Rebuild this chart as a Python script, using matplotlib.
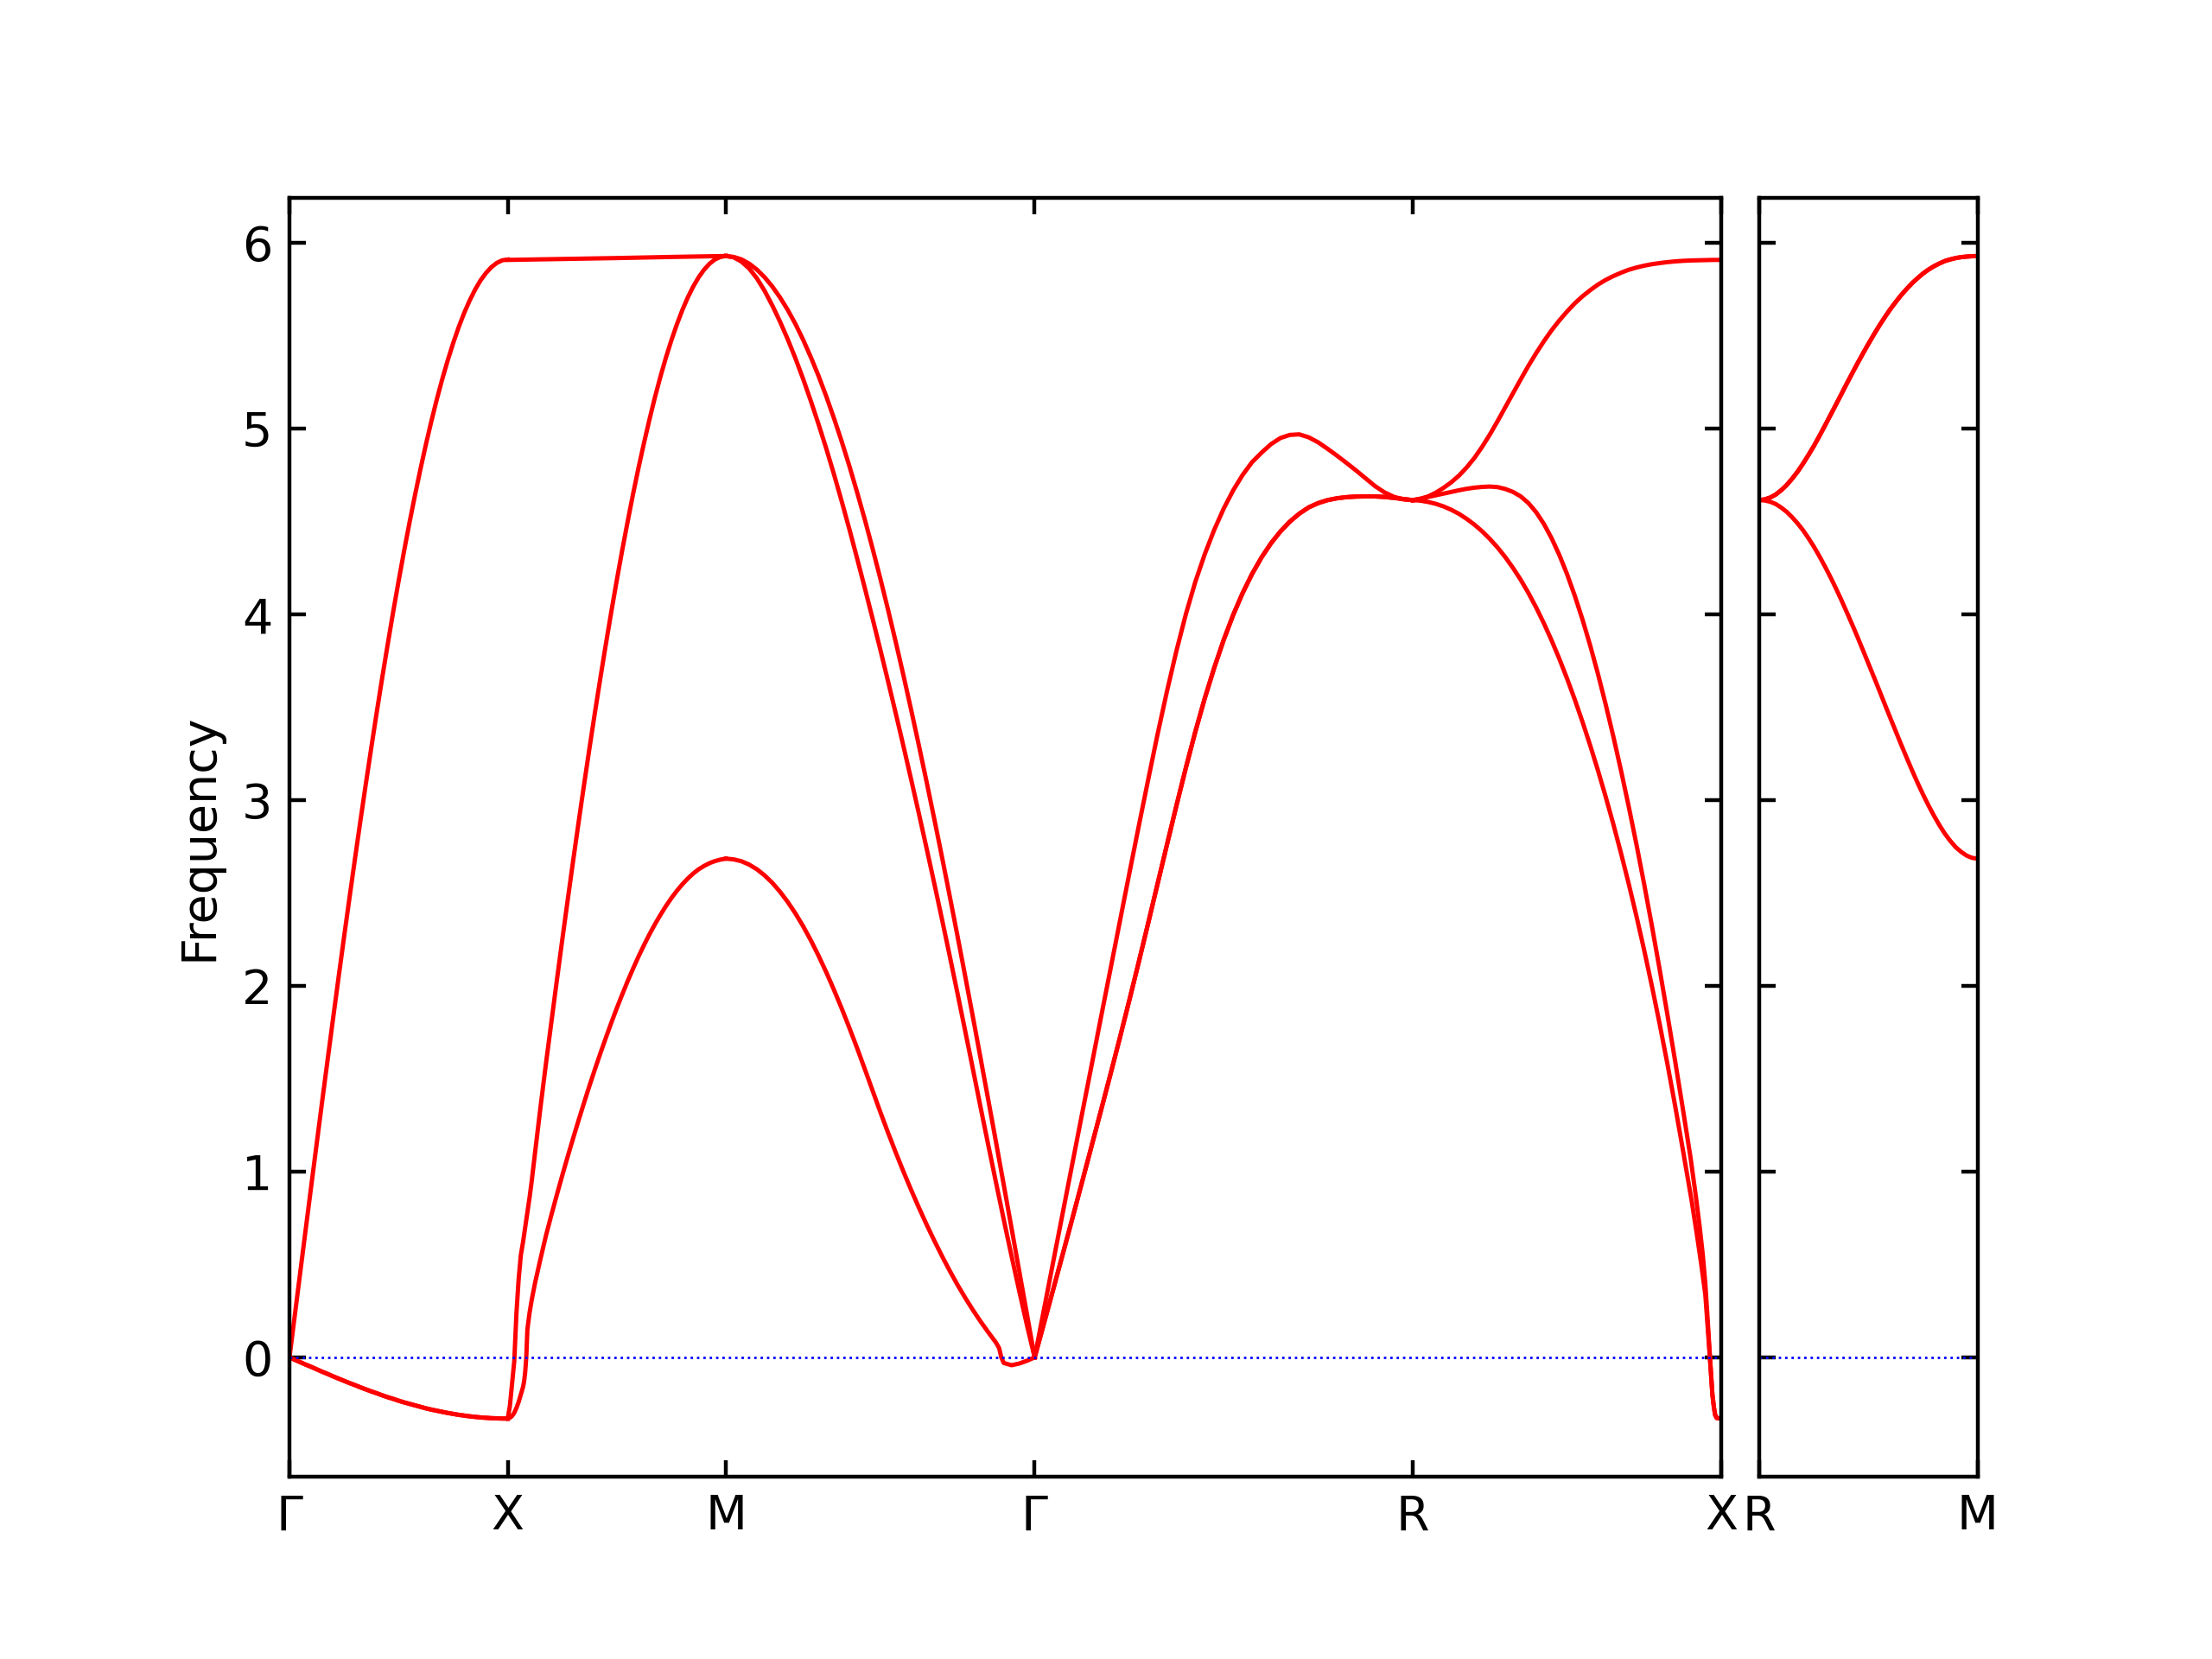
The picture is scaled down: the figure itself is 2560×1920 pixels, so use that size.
import numpy as np
import matplotlib
matplotlib.use("Agg")
import matplotlib.pyplot as plt

# ---------------- path definition ----------------
main_labels = ["Γ", "X", "M", "Γ", "R", "X"]
main_seg_lengths = [0.5, 0.5, 0.7071, 0.8660, 0.7071]
side_labels = ["R", "M"]
side_seg_lengths = [0.5]

# sample positions (fraction along a segment)
step41 = list(np.linspace(0.0, 1.0, 41))

# ---------------- band data (frequency) ----------------
# Gamma - X
gx_la = [0.0, 0.232, 0.464, 0.695, 0.925, 1.153, 1.380, 1.604, 1.826, 2.046,
         2.262, 2.474, 2.683, 2.888, 3.088, 3.283, 3.474, 3.659, 3.838, 4.012,
         4.179, 4.340, 4.494, 4.641, 4.781, 4.914, 5.039, 5.157, 5.266, 5.367,
         5.460, 5.545, 5.621, 5.688, 5.747, 5.797, 5.837, 5.869, 5.892, 5.906,
         5.910]
gx_ta = [0.0, -0.013, -0.026, -0.039, -0.051, -0.064, -0.077, -0.089, -0.102, -0.114,
         -0.126, -0.138, -0.149, -0.161, -0.172, -0.183, -0.193, -0.204, -0.214, -0.223,
         -0.233, -0.242, -0.250, -0.258, -0.266, -0.274, -0.281, -0.287, -0.293, -0.299,
         -0.304, -0.309, -0.313, -0.317, -0.320, -0.323, -0.325, -0.327, -0.328, -0.329,
         -0.329]

# X - M
xm_top_frac = [0.0, 0.25, 0.5, 0.75, 1.0]
xm_top = [5.908, 5.913, 5.918, 5.924, 5.929]
xm_frac = [0.0, 0.01, 0.02, 0.03, 0.04, 0.05, 0.06, 0.07, 0.075, 0.08, 0.085, 0.09,
           0.1, 0.11, 0.125, 0.15, 0.175] + list(np.linspace(0.2, 1.0, 33))
xm_mid = [-0.329, -0.26, -0.14, -0.02, 0.24, 0.42, 0.55, 0.62, 0.66, 0.70, 0.74, 0.78,
          0.86, 0.95, 1.10, 1.346, 1.58,
          1.805, 2.029, 2.249, 2.464, 2.676, 2.883, 3.085, 3.283, 3.475, 3.661,
          3.842, 4.017, 4.186, 4.348, 4.503, 4.652, 4.793, 4.926, 5.052, 5.171,
          5.281, 5.383, 5.476, 5.561, 5.638, 5.706, 5.765, 5.815, 5.856, 5.888,
          5.911, 5.924, 5.929]
xm_low = [-0.329, -0.325, -0.315, -0.298, -0.272, -0.24, -0.20, -0.16, -0.13, -0.08, 0.0, 0.15,
          0.24, 0.31, 0.40, 0.53, 0.655,
          0.767, 0.875, 0.980, 1.082, 1.181, 1.278, 1.372, 1.464, 1.553, 1.639,
          1.722, 1.803, 1.881, 1.955, 2.027, 2.095, 2.160, 2.221, 2.279, 2.333,
          2.383, 2.430, 2.473, 2.512, 2.547, 2.578, 2.605, 2.628, 2.646, 2.661,
          2.672, 2.680, 2.685]

# M - Gamma
mg_outer = [5.929, 5.924, 5.911, 5.888, 5.856, 5.815, 5.765, 5.706, 5.639, 5.563,
            5.478, 5.384, 5.283, 5.173, 5.055, 4.930, 4.797, 4.656, 4.509, 4.354,
            4.193, 4.025, 3.851, 3.671, 3.485, 3.294, 3.098, 2.897, 2.692, 2.482,
            2.269, 2.052, 1.832, 1.609, 1.384, 1.157, 0.928, 0.697, 0.465, 0.233,
            0.0]
mg_inner = [5.929, 5.922, 5.899, 5.862, 5.809, 5.742, 5.663, 5.576, 5.481, 5.378,
            5.267, 5.148, 5.023, 4.892, 4.753, 4.608, 4.457, 4.300, 4.140, 3.977,
            3.810, 3.640, 3.467, 3.290, 3.110, 2.927, 2.740, 2.550, 2.357, 2.160,
            1.960, 1.757, 1.552, 1.345, 1.141, 0.940, 0.741, 0.547, 0.358, 0.174,
            0.0]
mg_low_frac = list(np.linspace(0.0, 0.875, 36)) + [0.885, 0.892, 0.9, 0.925, 0.95, 0.975, 1.0]
mg_low = [2.685, 2.681, 2.671, 2.653, 2.628, 2.595, 2.555, 2.507, 2.452, 2.390,
          2.321, 2.245, 2.162, 2.073, 1.978, 1.878, 1.773, 1.664, 1.551, 1.436,
          1.321, 1.210, 1.103, 1.000, 0.901, 0.806, 0.715, 0.628, 0.545, 0.466,
          0.391, 0.321, 0.255, 0.193, 0.135, 0.079,
          0.05, 0.0, -0.03, -0.042, -0.033, -0.018, 0.0]

# Gamma - R
gr_up = [0.0, 0.262, 0.524, 0.785, 1.046, 1.307, 1.566, 1.826, 2.084, 2.343,
         2.601, 2.856, 3.107, 3.353, 3.586, 3.803, 4.001, 4.175, 4.324, 4.455,
         4.569, 4.667, 4.750, 4.819, 4.870, 4.916, 4.949, 4.966, 4.969, 4.953,
         4.926, 4.891, 4.854, 4.815, 4.775, 4.733, 4.691, 4.657, 4.633, 4.619,
         4.615]
gr_low = [0.0, 0.186, 0.373, 0.561, 0.750, 0.941, 1.133, 1.326, 1.520, 1.717,
          1.919, 2.125, 2.335, 2.548, 2.760, 2.970, 3.174, 3.368, 3.548, 3.712,
          3.862, 3.996, 4.114, 4.217, 4.306, 4.382, 4.446, 4.499, 4.542, 4.576,
          4.599, 4.615, 4.625, 4.631, 4.634, 4.635, 4.635, 4.632, 4.627, 4.621,
          4.615]

# R - X
rx_top = [4.615, 4.621, 4.635, 4.655, 4.681, 4.711, 4.747, 4.791, 4.842, 4.902,
          4.968, 5.040, 5.115, 5.190, 5.265, 5.338, 5.406, 5.470, 5.529, 5.582,
          5.630, 5.674, 5.712, 5.745, 5.775, 5.800, 5.821, 5.839, 5.855, 5.867,
          5.877, 5.885, 5.891, 5.896, 5.900, 5.903, 5.905, 5.906, 5.907, 5.908,
          5.908]
rx_tail_mid = [0.918, 0.93, 0.94, 0.948, 0.955, 0.962, 0.967, 0.971, 0.976, 0.98, 0.985, 1.0]
rx_mid_frac = list(np.linspace(0.0, 0.9, 37)) + rx_tail_mid
rx_mid = [4.615, 4.623, 4.632, 4.641, 4.650, 4.659, 4.668, 4.676, 4.682, 4.686,
          4.688, 4.685, 4.675,
          4.659, 4.635, 4.599, 4.550, 4.487, 4.410, 4.320, 4.217, 4.101, 3.973,
          3.833, 3.681, 3.517, 3.343, 3.159, 2.965, 2.761, 2.547, 2.323, 2.090,
          1.848, 1.598, 1.341, 1.078,
          0.86, 0.70, 0.55, 0.40, 0.22, 0.03, -0.10, -0.20, -0.27, -0.31, -0.326, -0.329]
rx_tail_low = [0.903, 0.92, 0.935, 0.948, 0.955, 0.962, 0.967, 0.971, 0.976, 0.98, 0.985, 1.0]
rx_low_frac = list(np.linspace(0.0, 0.875, 36)) + rx_tail_low
rx_low = [4.615, 4.612, 4.605, 4.595, 4.581, 4.563, 4.541, 4.514, 4.483, 4.447,
          4.406, 4.360, 4.308, 4.250, 4.186, 4.115, 4.037, 3.952, 3.860, 3.761,
          3.655, 3.542, 3.422, 3.295, 3.161, 3.020, 2.871, 2.714, 2.549, 2.375,
          2.192, 1.999, 1.796, 1.582, 1.357, 1.121,
          0.851, 0.67, 0.50, 0.34, 0.18, 0.02, -0.10, -0.20, -0.27, -0.31, -0.326, -0.329]

# R - M (second panel)
rm_up = [4.615, 4.619, 4.629, 4.645, 4.668, 4.696, 4.730, 4.768, 4.811, 4.858,
         4.907, 4.960, 5.015, 5.071, 5.127, 5.184, 5.241, 5.297, 5.352, 5.405,
         5.457, 5.507, 5.555, 5.600, 5.643, 5.682, 5.719, 5.752, 5.783, 5.810,
         5.835, 5.856, 5.874, 5.889, 5.902, 5.911, 5.918, 5.923, 5.926, 5.928,
         5.929]
rm_low = [4.615, 4.613, 4.606, 4.594, 4.575, 4.552, 4.523, 4.490, 4.453, 4.410,
          4.364, 4.313, 4.259, 4.202, 4.142, 4.079, 4.013, 3.946, 3.877, 3.806,
          3.734, 3.662, 3.589, 3.515, 3.442, 3.370, 3.298, 3.228, 3.159, 3.093,
          3.030, 2.971, 2.916, 2.865, 2.819, 2.780, 2.746, 2.721, 2.701, 2.689,
          2.685]

# bands per segment: (segment index, fractions, values)
main_bands = [
    (0, step41, gx_la), (0, step41, gx_ta), (0, step41, gx_ta),
    (1, xm_top_frac, xm_top), (1, xm_frac, xm_mid), (1, xm_frac, xm_low),
    (2, step41, mg_outer), (2, step41, mg_inner), (2, mg_low_frac, mg_low),
    (3, step41, gr_up), (3, step41, gr_low), (3, step41, gr_low),
    (4, step41, rx_top), (4, rx_mid_frac, rx_mid), (4, rx_low_frac, rx_low),
]
side_bands = [(0, step41, rm_up), (0, step41, rm_up), (0, step41, rm_low)]

ylim = (-0.642, 6.242)

# ---------------- figure ----------------
fig = plt.figure(figsize=(6.4, 4.8), dpi=400)
W, H = 2560.0, 1920.0
px_per_unit = 505.2
left_px = 335.0
gap_px = 44.0
bottom = 1 - 1709 / H
height = (1709 - 229) / H
main_total = sum(main_seg_lengths)
side_total = sum(side_seg_lengths)
ax1 = fig.add_axes([left_px / W, bottom, main_total * px_per_unit / W, height])
ax2 = fig.add_axes([(left_px + main_total * px_per_unit + gap_px) / W, bottom,
                    side_total * px_per_unit / W, height])


def draw(ax, seg_lengths, labels, bands):
    starts = np.concatenate([[0.0], np.cumsum(seg_lengths)])
    for seg, fr, vals in bands:
        x = starts[seg] + np.asarray(fr) * seg_lengths[seg]
        ax.plot(x, vals, color="red", lw=0.9)
    ax.axhline(0, color="blue", ls=":", lw=0.5)
    ax.set_xlim(starts[0], starts[-1])
    ax.set_ylim(*ylim)
    ax.set_xticks(starts)
    ax.set_xticklabels(labels)
    ax.set_yticks(range(0, 7))
    ax.tick_params(direction="in", top=True, right=True, labelsize=10)


draw(ax1, main_seg_lengths, main_labels, main_bands)
draw(ax2, side_seg_lengths, side_labels, side_bands)
ax2.tick_params(labelleft=False)
ax1.set_ylabel("Frequency")

fig.savefig("out.png", dpi=400)
